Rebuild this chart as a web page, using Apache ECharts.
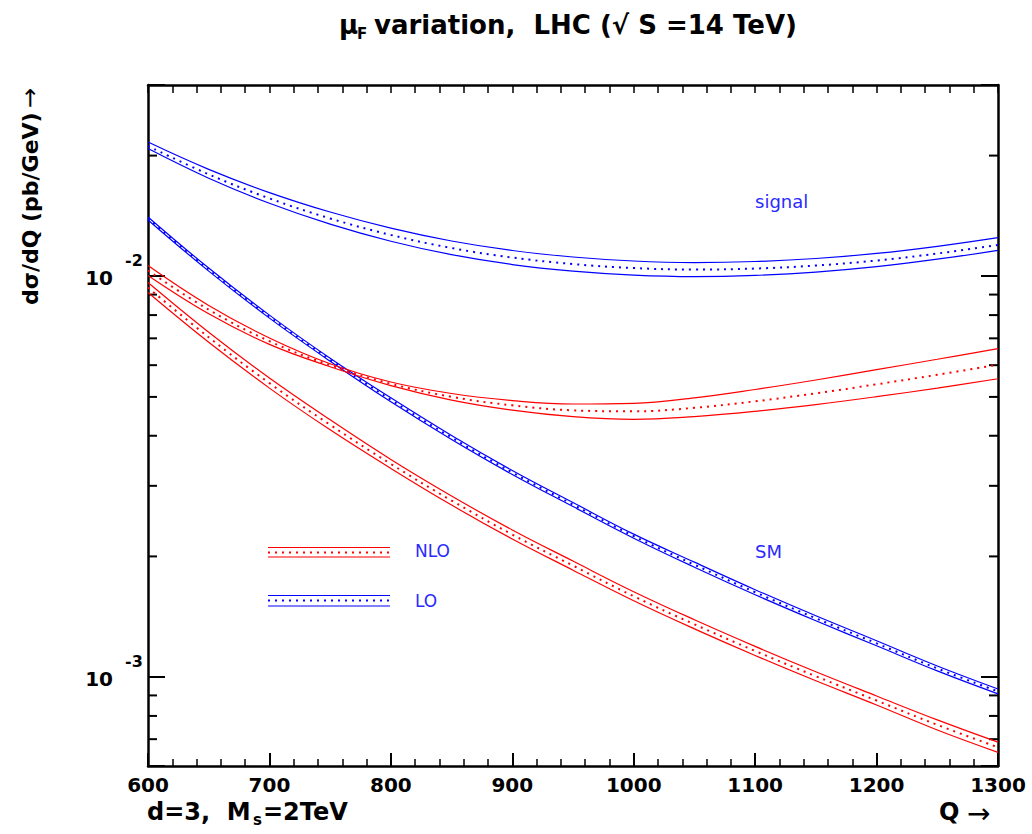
<!DOCTYPE html>
<html>
<head>
<meta charset="utf-8">
<title>muF variation, LHC</title>
<script src="https://cdn.jsdelivr.net/npm/echarts@6/dist/echarts.min.js"></script>
<style>
  html, body { margin: 0; padding: 0; background: #fff; }
  #chart { width: 1032px; height: 834px; }
</style>
</head>
<body>
<div id="chart"></div>
<script>
// Q (GeV) where the curves were read
var qValues = [600, 650, 700, 750, 800, 850, 900, 950, 1000, 1050, 1100, 1150, 1200, 1250, 1300];

// signal, LO (blue top band)
var signalLoUp   = [0.02162, 0.01848, 0.01617, 0.01446, 0.013183, 0.012245, 0.011594, 0.011168, 0.010914, 0.010820, 0.010883, 0.011072, 0.011402, 0.011878, 0.012488];
var signalLoMid  = [0.02113, 0.01796, 0.01564, 0.01394, 0.012677, 0.011762, 0.011136, 0.010727, 0.010483, 0.010393, 0.010453, 0.010635, 0.010946, 0.011396, 0.011967];
var signalLoDown = [0.02082, 0.01756, 0.01521, 0.01349, 0.012226, 0.011317, 0.010696, 0.010303, 0.010069, 0.009983, 0.010052, 0.010245, 0.010568, 0.011028, 0.011607];

// SM, LO (blue, narrow)
var smLoUp   = [0.01406, 0.01048, 0.007998, 0.006245, 0.004974, 0.004006, 0.003277, 0.002725, 0.002273, 0.001935, 0.001652, 0.001422, 0.001232, 0.001066, 0.000934];
var smLoMid  = [0.01394, 0.01039, 0.007929, 0.006191, 0.004917, 0.003960, 0.003239, 0.002694, 0.002247, 0.001907, 0.001628, 0.001402, 0.001214, 0.001051, 0.000921];
var smLoDown = [0.01382, 0.01030, 0.007861, 0.006138, 0.004861, 0.003915, 0.003202, 0.002663, 0.002221, 0.001880, 0.001605, 0.001382, 0.001197, 0.001036, 0.000908];

// signal, NLO (red upper band)
var signalNloUp   = [0.010636, 0.008457, 0.007015, 0.006050, 0.005448, 0.005099, 0.004897, 0.004800, 0.004820, 0.004974, 0.005218, 0.005511, 0.005847, 0.006208, 0.006597];
var signalNloMid  = [0.010334, 0.008255, 0.006887, 0.005998, 0.005392, 0.005003, 0.004764, 0.004629, 0.004603, 0.004696, 0.004875, 0.005105, 0.005376, 0.005678, 0.006016];
var signalNloDown = [0.010041, 0.008058, 0.006761, 0.005946, 0.005336, 0.004909, 0.004634, 0.004464, 0.004396, 0.004467, 0.004602, 0.004784, 0.005006, 0.005260, 0.005550];

// SM, NLO (red lower band)
var smNloUp   = [0.009645, 0.007248, 0.005571, 0.004383, 0.003491, 0.002830, 0.002328, 0.001947, 0.001633, 0.001390, 0.001193, 0.001031, 0.000897, 0.000782, 0.000688];
var smNloMid  = [0.009371, 0.007042, 0.005413, 0.004259, 0.003402, 0.002757, 0.002268, 0.001897, 0.001591, 0.001354, 0.001162, 0.001005, 0.000874, 0.000760, 0.000668];
var smNloDown = [0.009105, 0.006842, 0.005259, 0.004138, 0.003315, 0.002686, 0.002210, 0.001848, 0.001550, 0.001319, 0.001132, 0.000979, 0.000852, 0.000738, 0.000649];

// y axis decades and minor ticks
var yDecades = [0.001, 0.01];
var yExponents = ['-3', '-2'];
var yMinorTicks = [0.0007, 0.0008, 0.0009, 0.002, 0.003, 0.004, 0.005, 0.006, 0.007, 0.008, 0.009, 0.02];

var BLUE = '#0000ff';
var RED = '#ff0000';
var BOLD = 'DejaVu Sans';

function pairs(arr) {
  return qValues.map(function (q, i) { return [q, arr[i]]; });
}

function band(name, color, up, mid, down) {
  var base = {
    type: 'line', showSymbol: false, smooth: 0.4, silent: true,
    xAxisIndex: 0, yAxisIndex: 0
  };
  return [
    Object.assign({}, base, { name: name + ' up', data: pairs(up), lineStyle: { color: color, width: 1.2 } }),
    Object.assign({}, base, { name: name, data: pairs(mid), lineStyle: { color: color, width: 2, type: [2, 5] } }),
    Object.assign({}, base, { name: name + ' down', data: pairs(down), lineStyle: { color: color, width: 1.2 } })
  ];
}

var axisLine = { show: true, onZero: false, lineStyle: { color: '#000', width: 2.5 } };

var chart = echarts.init(document.getElementById('chart'), null, { renderer: 'svg' });

var option = {
  animation: false,
  backgroundColor: '#fff',
  grid: { left: 148, right: 34, top: 85, bottom: 68 },
  xAxis: [{
    type: 'value', position: 'bottom', min: 600, max: 1300, interval: 100,
    axisLine: axisLine,
    axisTick: { inside: true, length: 13, lineStyle: { color: '#000', width: 2 } },
    minorTick: { show: true, splitNumber: 5, length: 7, lineStyle: { color: '#000', width: 1.5 } },
    axisLabel: {
      margin: 9, color: '#000', fontFamily: BOLD, fontWeight: 'bold', fontSize: 20,
      formatter: function (v) { return String(v); }
    },
    splitLine: { show: false }
  }, {
    type: 'value', position: 'top', min: 600, max: 1300, interval: 20,
    axisLine: axisLine,
    axisTick: { inside: true, length: 8, lineStyle: { color: '#000', width: 1.5 } },
    axisLabel: { show: false },
    splitLine: { show: false }
  }],
  yAxis: [{
    type: 'log', logBase: 10, position: 'left', min: 0.0006, max: 0.03,
    axisLine: axisLine,
    axisTick: { inside: true, length: 17, lineStyle: { color: '#000', width: 2 } },
    axisLabel: { show: false },
    splitLine: { show: false }
  }, {
    type: 'log', logBase: 10, position: 'right', min: 0.0006, max: 0.03,
    axisLine: axisLine,
    axisTick: { inside: true, length: 17, lineStyle: { color: '#000', width: 2 } },
    axisLabel: { show: false },
    splitLine: { show: false }
  }],
  series: [].concat(
    band('signal LO', BLUE, signalLoUp, signalLoMid, signalLoDown),
    band('SM LO', BLUE, smLoUp, smLoMid, smLoDown),
    band('signal NLO', RED, signalNloUp, signalNloMid, signalNloDown),
    band('SM NLO', RED, smNloUp, smNloMid, smNloDown)
  )
};
chart.setOption(option);

// decorations placed with the axes' own scales
var xLeft = chart.convertToPixel({ xAxisIndex: 0 }, 600);
var xRight = chart.convertToPixel({ xAxisIndex: 0 }, 1300);
var g = [];

function txt(x, y, text, size, opts) {
  opts = opts || {};
  var el = {
    type: 'text', x: x, y: y, silent: true,
    style: {
      text: text, fill: opts.color || '#000',
      fontFamily: opts.family || BOLD,
      fontWeight: opts.weight || 'bold',
      fontSize: size,
      align: opts.align || 'left', verticalAlign: 'middle',
      textAlign: opts.align || 'left', textVerticalAlign: 'middle'
    }
  };
  if (opts.rotation) el.rotation = opts.rotation;
  g.push(el);
}

function hline(x1, x2, y, color, width, dash) {
  g.push({
    type: 'line', silent: true,
    shape: { x1: x1, y1: y, x2: x2, y2: y },
    style: { stroke: color, lineWidth: width, lineDash: dash || null }
  });
}

yMinorTicks.forEach(function (v) {
  var y = chart.convertToPixel({ yAxisIndex: 0 }, v);
  hline(xLeft, xLeft + 9, y, '#000', 2);
  hline(xRight - 9, xRight, y, '#000', 2);
});

yDecades.forEach(function (v, i) {
  var y = chart.convertToPixel({ yAxisIndex: 0 }, v);
  txt(113, y + 2, '10', 20, { align: 'right' });
  txt(125, y - 16, yExponents[i], 16);
});

// title
txt(339, 25, 'μ', 26);
txt(357, 34, 'F', 15);
txt(374, 25, 'variation,  LHC (√ S =14 TeV)', 26);

// y axis title
txt(30, 305, 'dσ/dQ (pb/GeV)', 22, { rotation: Math.PI / 2 });
txt(30, 108, '→', 24, { rotation: Math.PI / 2, weight: 'normal' });

// bottom texts
txt(147, 812, 'd=3,  M', 24);
txt(253, 820, 's', 15);
txt(263, 812, '=2TeV', 24);
txt(939, 812, 'Q', 24);
txt(967, 813, '→', 28, { weight: 'normal' });

// legend
hline(268, 390, 547.5, RED, 1.2);
hline(268, 390, 552.5, RED, 2, [2, 5]);
hline(268, 390, 557, RED, 1.2);
hline(268, 390, 595.5, BLUE, 1.2);
hline(268, 390, 600.5, BLUE, 2, [2, 5]);
hline(268, 390, 606, BLUE, 1.2);
txt(415, 551, 'NLO', 17, { weight: 'normal', color: '#2a2aff' });
txt(415, 601, 'LO', 17, { weight: 'normal', color: '#2a2aff' });

// curve labels
txt(755, 201, 'signal', 18, { weight: 'normal', color: '#2a2aff' });
txt(755, 551, 'SM', 18, { weight: 'normal', color: '#2a2aff' });

chart.setOption({ graphic: { elements: g } });
</script>
</body>
</html>
